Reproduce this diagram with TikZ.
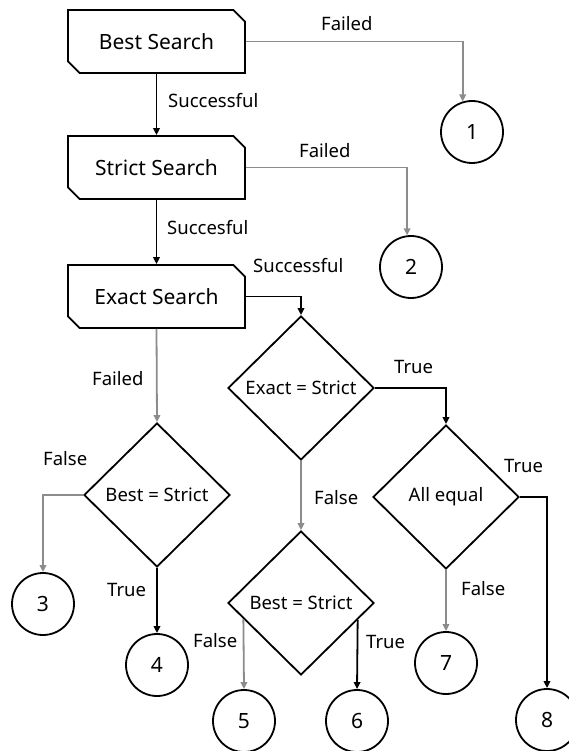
\documentclass[tikz,border=0pt]{standalone}
\usepackage{fontspec}
\setmainfont{Noto Sans}
\usetikzlibrary{arrows.meta,shapes.geometric,shapes.misc,calc}
\definecolor{lg}{RGB}{140,140,140}
\begin{document}
\begin{tikzpicture}[x=1pt,y=-1pt,
 box/.style={chamfered rectangle, chamfered rectangle corners={north east,south west}, chamfered rectangle xsep=10pt, draw, line width=1.8pt, minimum width=177pt, minimum height=63pt, inner sep=0pt, font=\fontsize{21}{25}\selectfont},
 dec/.style={diamond, draw, line width=1.8pt, minimum width=146pt, minimum height=144pt, inner sep=0pt, font=\fontsize{18.5}{22}\selectfont},
 term/.style={circle, draw, line width=1.8pt, minimum size=62pt, inner sep=0pt, font=\fontsize{21}{25}\selectfont},
 lbl/.style={anchor=base west, inner sep=0pt, font=\fontsize{18.5}{22}\selectfont},
 yes/.style={draw=black, line width=1.8pt, -{Triangle[length=7pt,width=6.5pt]}},
 no/.style={draw=lg, line width=1.8pt, -{Triangle[length=7pt,width=6.5pt]}}
]
\useasboundingbox (0,0) rectangle (569,751);
% process boxes
\node[box] (B1) at (156.5,41.5) {Best Search};
\node[box] (B2) at (156.5,167.5) {Strict Search};
\node[box] (B3) at (156.5,296.5) {Exact Search};
% decisions
\node[dec] (D1) at (301,388) {Exact = Strict};
\node[dec] (D2) at (157,495) {Best = Strict};
\node[dec] (D3) at (301,603) {Best = Strict};
\node[dec] (D4) at (446,497) {All equal};
% terminals
\node[term] (C1) at (472,132) {1};
\node[term] (C2) at (411,267) {2};
\node[term] (C3) at (43,604) {3};
\node[term] (C4) at (157,665) {4};
\node[term] (C5) at (244,721) {5};
\node[term] (C6) at (357,721) {6};
\node[term] (C7) at (446,663) {7};
\node[term] (C8) at (547,720) {8};
% connectors
\draw[no] (B1.east) -| (C1.107);
\draw[yes] (B1.south) -- (B2.north);
\draw[no] (B2.east) -| (C2.97);
\draw[yes] (B2.south) -- (B3.north);
\draw[yes] (B3.east) -| (D1.north);
\draw[no] (B3.south) -- (D2.north);
\draw[yes] (D1.east) -| (D4.north);
\draw[no] (D1.south) -- (D3.north);
\draw[yes] (D4.east) -| (C8.north);
\draw[no] (D4.south) -- (C7.north);
\draw[no] (D2.west) -| (C3.north);
\draw[yes] (D2.south) -- (C4.north);
\coordinate (d3l) at ($(D3.west)!0.22!(D3.south)$);
\coordinate (d3r) at ($(D3.east)!0.233!(D3.south)$);
\draw[no] (d3l) -- (C5.north);
\draw[yes] (d3r) -- (C6.north);
% labels
\node[lbl] (l1) at (321,31) {Failed};
\node[lbl] (l2) at (168,108) {Successful};
\node[lbl] (l3) at (299,158) {Failed};
\node[lbl] (l4) at (167,234) {Succesful};
\node[lbl] (l5) at (253,272) {Successful};
\node[lbl] (l6) at (92,385) {Failed};
\node[lbl] (l7) at (394,373) {True};
\node[lbl] (l8) at (43,465) {False};
\node[lbl] (l9) at (314,504) {False};
\node[lbl] (l10) at (504,472) {True};
\node[lbl] (l11) at (107,596) {True};
\node[lbl] (l12) at (193,647) {False};
\node[lbl] (l13) at (366,648) {True};
\node[lbl] (l14) at (461,595) {False};
\end{tikzpicture}
\end{document}
